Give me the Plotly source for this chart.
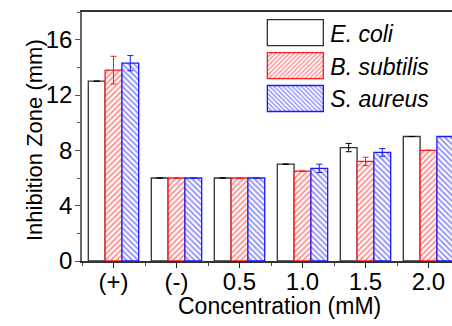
import plotly.graph_objects as go

categories = ["(+)", "(-)", "0.5", "1.0", "1.5", "2.0"]
ecoli = [13.0, 6.0, 6.0, 7.0, 8.2, 9.0]
ecoli_err = [0, 0, 0, 0, 0.3, 0]
bsub = [13.8, 6.0, 6.0, 6.5, 7.2, 8.0]
bsub_err = [1.0, 0, 0, 0, 0.3, 0]
saur = [14.3, 6.0, 6.0, 6.7, 7.85, 9.0]
saur_err = [0.55, 0, 0, 0.3, 0.28, 0]
y_ticks = [0, 4, 8, 12, 16]
x_title = "Concentration (mM)"
y_title = "Inhibition Zone (mm)"

xpos = list(range(len(categories)))
FONT = "Liberation Sans, Arial, sans-serif"

fig = go.Figure()
fig.add_trace(go.Bar(
    x=xpos, y=ecoli, name="E. coli",
    marker=dict(color="white", line=dict(color="#333", width=1.3)),
    error_y=dict(type="data", array=ecoli_err, color="black", thickness=1, width=3),
))
fig.add_trace(go.Bar(
    x=xpos, y=bsub, name="B. subtilis",
    marker=dict(color="white", line=dict(color="#ff1a1a", width=1.3),
                pattern=dict(shape="/", fgcolor="#ff1a1a", bgcolor="white", size=4, solidity=0.45)),
    error_y=dict(type="data", array=bsub_err, color="#ff1a1a", thickness=1, width=3),
))
fig.add_trace(go.Bar(
    x=xpos, y=saur, name="S. aureus",
    marker=dict(color="white", line=dict(color="#1a1aff", width=1.3),
                pattern=dict(shape="\\", fgcolor="#1a1aff", bgcolor="white", size=4, solidity=0.45)),
    error_y=dict(type="data", array=saur_err, color="#1a1aff", thickness=1, width=3),
))

fig.update_layout(
    width=452, height=326,
    margin=dict(l=82, r=0, t=12, b=65),
    paper_bgcolor="white", plot_bgcolor="white",
    barmode="group", bargap=0.2, bargroupgap=0,
    font=dict(family=FONT, size=23, color="black"),
    showlegend=True,
    legend=dict(
        x=0.482, y=1.003, xanchor="left", yanchor="top",
        bgcolor="rgba(0,0,0,0)", itemwidth=60,
        font=dict(family=FONT, size=23, style="italic"),
        tracegroupgap=0, itemclick=False,
    ),
    xaxis=dict(
        range=[-0.5, 5.373],
        tickmode="array", tickvals=xpos, ticktext=categories,
        ticks="outside", ticklen=5, tickwidth=1, tickcolor="#222",
        showline=True, linecolor="#333", linewidth=1.5, mirror=True,
        showgrid=False, zeroline=False,
        minor=dict(tickmode="array", tickvals=[i + 0.5 for i in range(-1, len(categories))],
                   ticks="outside", ticklen=3, tickcolor="#444", tickwidth=1),
        tickfont=dict(size=24),
        ticklabelstandoff=-7,
    ),
    yaxis=dict(
        range=[0, 18],
        tickmode="array", tickvals=y_ticks,
        ticks="outside", ticklen=5, tickwidth=1, tickcolor="#555",
        showline=True, linecolor="#666", linewidth=1.5, mirror=False,
        showgrid=False, zeroline=False,
        minor=dict(dtick=2, tick0=0, ticks="outside", ticklen=3, tickcolor="#555", tickwidth=1),
        tickfont=dict(size=24),
        ticklabelstandoff=-2,
    ),
    annotations=[
        dict(text=x_title, xref="paper", yref="paper", x=0.535, y=-0.18,
             xanchor="center", yanchor="middle", showarrow=False,
             font=dict(family=FONT, size=23, color="black")),
        dict(text=y_title, xref="paper", yref="paper", x=-0.127, y=0.486,
             xanchor="center", yanchor="middle", showarrow=False, textangle=-90,
             font=dict(family=FONT, size=22, color="black")),
    ],
)

post = """
document.body.style.margin = '0';
document.body.style.padding = '0';
document.body.style.overflow = 'hidden';
var gdList = document.getElementsByClassName('plotly-graph-div');
function fixLegend(){
  document.querySelectorAll('g.legendpoints path').forEach(function(p){
    p.setAttribute('d','M28,13H-28V-13H28Z');
  });
}
fixLegend();
setTimeout(fixLegend, 50);
setTimeout(fixLegend, 300);
setTimeout(fixLegend, 1000);
if (gdList.length && gdList[0].on) { gdList[0].on('plotly_afterplot', fixLegend); }
"""
fig.write_html("out.html", post_script=post, config={"displayModeBar": False})
